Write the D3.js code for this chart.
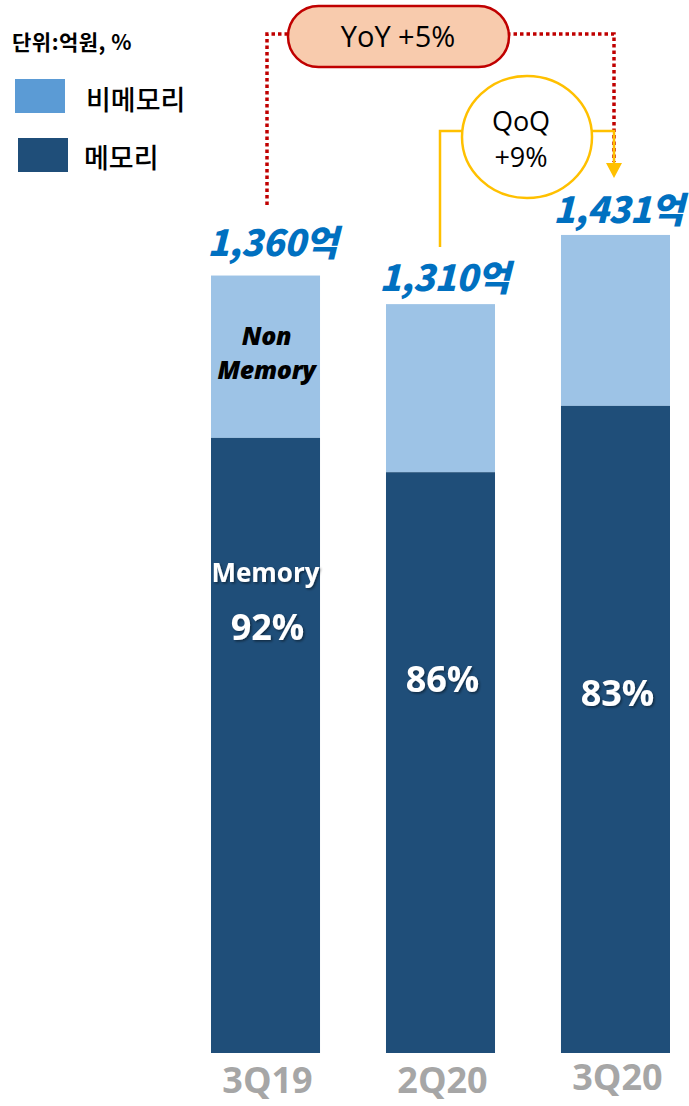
<!DOCTYPE html>
<html>
<head>
<meta charset="utf-8">
<script src="https://cdn.jsdelivr.net/npm/d3@7"></script>
<style>
  body { margin: 0; background: #ffffff; }
  svg { display: block; }
</style>
</head>
<body>
<div class="chart"></div>
<script>
// Data.
const quarters = ["3Q19", "2Q20", "3Q20"];
const totals = [1360, 1310, 1431];
// Memory part as drawn in the bars.
const memoryValues = [1076, 1016, 1132];
const memoryShareLabels = ["92%", "86%", "83%"];
const totalLabels = ["1,360억", "1,310억", "1,431억"];
const legendLabels = ["비메모리", "메모리"];

const width = 689, height = 1106;
const colors = { mem: "#1f4e79", nonMem: "#9dc3e6", legendNonMem: "#5b9bd5" };
const latin = "'Open Sans', 'Noto Sans', sans-serif";
const kr = "'Noto Sans CJK KR', 'Noto Sans', sans-serif";

const svg = d3.select(".chart")
  .append("svg")
  .attr("width", width)
  .attr("height", height)
  .attr("viewBox", [0, 0, width, height]);

// Soft shadow for the white labels inside the bars.
const defs = svg.append("defs");
const shadow = defs.append("filter").attr("id", "shadow")
  .attr("x", "-20%").attr("y", "-20%").attr("width", "140%").attr("height", "140%");
shadow.append("feDropShadow")
  .attr("dx", 1.5).attr("dy", 1.5).attr("stdDeviation", 1)
  .attr("flood-color", "#000000").attr("flood-opacity", 0.45);

// Scales.
const x = d3.scaleBand()
  .domain(quarters)
  .range([211, 670])
  .paddingInner(0.377)
  .paddingOuter(0);
const y = d3.scaleLinear()
  .domain([0, 1842])
  .range([1053, 0]);

// Bars: non memory on top of memory.
const bars = svg.append("g");
quarters.forEach((q, i) => {
  bars.append("rect")
    .attr("x", x(q))
    .attr("y", y(totals[i]))
    .attr("width", x.bandwidth())
    .attr("height", y(memoryValues[i]) - y(totals[i]))
    .attr("fill", colors.nonMem);
  bars.append("rect")
    .attr("x", x(q))
    .attr("y", y(memoryValues[i]))
    .attr("width", x.bandwidth())
    .attr("height", y(0) - y(memoryValues[i]))
    .attr("fill", colors.mem);
});

// Total labels above the bars.
const labelOffsets = [[7, -20], [4, -13], [3, -12]];
quarters.forEach((q, i) => {
  svg.append("text")
    .attr("x", x(q) + x.bandwidth() / 2 + labelOffsets[i][0])
    .attr("y", y(totals[i]) + labelOffsets[i][1])
    .attr("text-anchor", "middle")
    .attr("font-family", kr)
    .attr("font-weight", "900")
    .attr("font-style", "italic")
    .attr("font-size", "36px")
    .attr("letter-spacing", "-0.5px")
    .attr("fill", "#0070c0")
    .text(totalLabels[i]);
});

// Memory share labels.
const shareY = [640, 692, 706];
quarters.forEach((q, i) => {
  svg.append("text")
    .attr("x", x(q) + x.bandwidth() / 2 + 2)
    .attr("y", shareY[i])
    .attr("text-anchor", "middle")
    .attr("font-family", latin)
    .attr("font-weight", "bold")
    .attr("font-size", "36px")
    .attr("fill", "#ffffff")
    .attr("filter", "url(#shadow)")
    .text(memoryShareLabels[i]);
});
const cx0 = x(quarters[0]) + x.bandwidth() / 2;
svg.append("text")
  .attr("x", cx0)
  .attr("y", 582)
  .attr("text-anchor", "middle")
  .attr("font-family", latin)
  .attr("font-weight", "bold")
  .attr("font-size", "26px")
  .attr("fill", "#ffffff")
  .attr("filter", "url(#shadow)")
  .text("Memory");
["Non", "Memory"].forEach((t, i) => {
  svg.append("text")
    .attr("x", cx0 + 1)
    .attr("y", 345 + i * 34)
    .attr("text-anchor", "middle")
    .attr("font-family", latin)
    .attr("font-weight", "800")
    .attr("font-style", "italic")
    .attr("font-size", "25px")
    .attr("letter-spacing", "-0.3px")
    .attr("fill", "#000000")
    .text(t);
});

// Category labels under the bars.
const catY = [1093, 1093, 1090];
quarters.forEach((q, i) => {
  svg.append("text")
    .attr("x", x(q) + x.bandwidth() / 2 + 2)
    .attr("y", catY[i])
    .attr("text-anchor", "middle")
    .attr("font-family", latin)
    .attr("font-weight", "bold")
    .attr("font-size", "36px")
    .attr("fill", "#a6a6a6")
    .text(q);
});

// Unit and legend.
svg.append("text")
  .attr("x", 12)
  .attr("y", 50)
  .attr("font-family", kr)
  .attr("font-weight", "bold")
  .attr("font-size", "21px")
  .attr("letter-spacing", "0.5px")
  .attr("fill", "#000000")
  .text("단위:억원, %");
const legendRows = [
  { x: 15, y: 79, color: colors.legendNonMem, tx: 86, ty: 110 },
  { x: 18, y: 138, color: colors.mem, tx: 84, ty: 168 }
];
legendRows.forEach((r, i) => {
  svg.append("rect")
    .attr("x", r.x).attr("y", r.y)
    .attr("width", 50).attr("height", 34)
    .attr("fill", r.color);
  svg.append("text")
    .attr("x", r.tx).attr("y", r.ty)
    .attr("font-family", kr)
    .attr("font-weight", "500")
    .attr("font-size", "27px")
    .attr("fill", "#000000")
    .text(legendLabels[i]);
});

// YoY: red dotted connector and pill.
const xLeft = 267, xRight = 614;
svg.append("path")
  .attr("d", `M${xLeft},205 V34 H290 M507,34 H${xRight} V162`)
  .attr("fill", "none")
  .attr("stroke", "#c00000")
  .attr("stroke-width", 3.5)
  .attr("stroke-dasharray", "3.5,3");
svg.append("rect")
  .attr("x", 288).attr("y", 6)
  .attr("width", 221).attr("height", 61)
  .attr("rx", 30.5)
  .attr("fill", "#f8cbad")
  .attr("stroke", "#c00000")
  .attr("stroke-width", 2.5);
svg.append("text")
  .attr("x", 398).attr("y", 47)
  .attr("text-anchor", "middle")
  .attr("font-family", latin)
  .attr("font-size", "29px")
  .attr("fill", "#000000")
  .text("YoY +5%");

// QoQ: yellow connector, arrow and circle.
const yellow = "#ffc000";
svg.append("path")
  .attr("d", `M440,247 V131 H470 M585,131 H${xRight} V165`)
  .attr("fill", "none")
  .attr("stroke", yellow)
  .attr("stroke-width", 2.5);
svg.append("path")
  .attr("d", `M${xRight - 8},163 L${xRight + 8},163 L${xRight},178 Z`)
  .attr("fill", yellow);
svg.append("ellipse")
  .attr("cx", 527).attr("cy", 137)
  .attr("rx", 65).attr("ry", 61)
  .attr("fill", "#ffffff")
  .attr("stroke", yellow)
  .attr("stroke-width", 2.5);
["QoQ", "+9%"].forEach((t, i) => {
  svg.append("text")
    .attr("x", 521).attr("y", 131 + i * 36)
    .attr("text-anchor", "middle")
    .attr("font-family", latin)
    .attr("font-size", "27px")
    .attr("fill", "#000000")
    .text(t);
});
</script>
</body>
</html>
